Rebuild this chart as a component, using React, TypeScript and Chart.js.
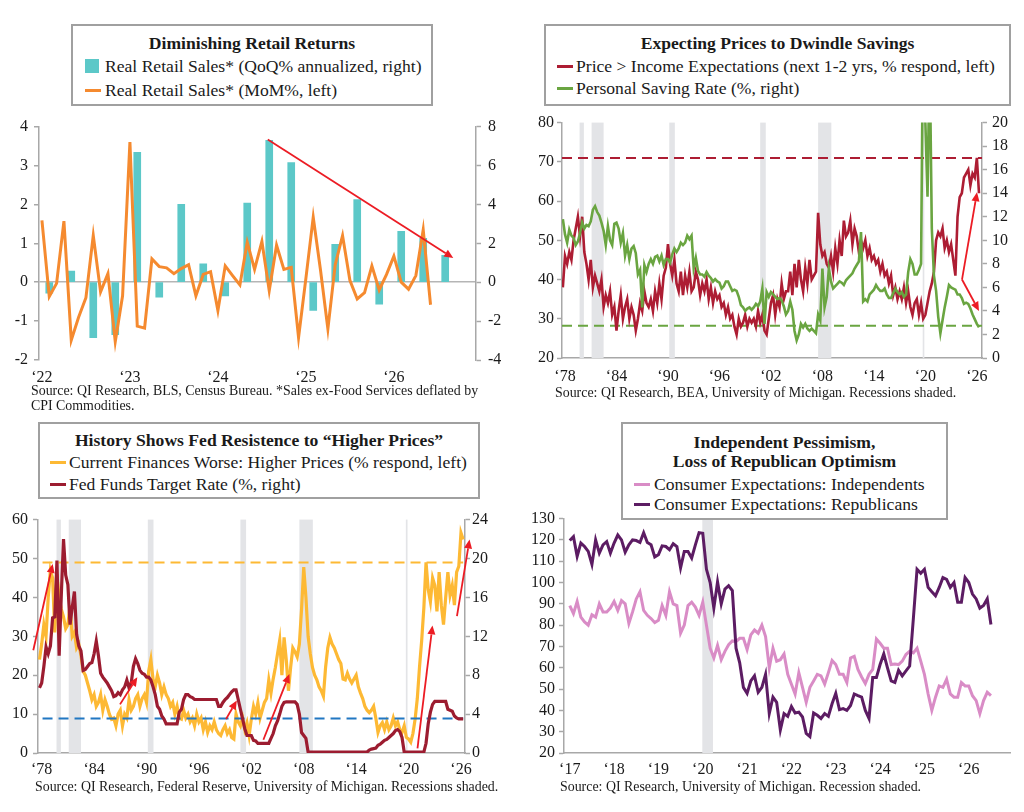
import { useEffect, useRef } from "react";
import { Chart, registerables } from "chart.js";

Chart.register(...registerables);

const FONT = "'Liberation Serif', 'Times New Roman', serif";
const INK = "#1a1a1a";
const AXIS_GREY = "#a8a8a8";
const SHADE = "#e3e4e7";
const ARROW_RED = "#ec1c24";

// ---- panel 1: Diminishing Retail Returns (monthly from Jan '22, index = month) ----
const P1_YEAR_TICKS = [0, 12, 24, 36, 48];
const P1_YEAR_LABELS = ["‘22", "‘23", "‘24", "‘25", "‘26"];
const RETAIL_MOM = [
  1.59, -0.37, -0.03, 1.57, -1.49, -0.9, -0.4, 1.2, -0.25, 0.22, -1.53, -0.35,
  3.6, -1.13, -1.18, 0.6, 0.4, 0.37, 0.22, 0.35, 0.45, -0.35, 0.2, 0.27,
  -0.73, 0.42, 0.17, -0.07, 1.03, 0.33, 1.05, -0.22, 0.95, 0.33, 0.38, -1.42,
  0.1, 1.67, 0.3, -1.2, 0.45, 1.2, 0.05, -0.43, -0.27, 0.42, -0.2, 0.2,
  0.67, 0.0, -0.18, 0.17, 1.35, -0.58,
];
const RETAIL_QOQ = [
  -0.56, 0.57, -2.85, -2.7, 6.68, -0.77, 4.0, 0.95, -0.7, 4.07,
  7.3, 6.15, -1.45, 1.95, 4.25, -1.13, 2.62, 2.25, 1.38,
];
const P1_ARROWS = [[30.8, 3.67, 56.1, 0.62]];

// ---- shared long-history axis ('78 - '26), quarterly points from 1977.75 ----
const Q_START = 1977.75;
const LONG_TICKS = [1978, 1984, 1990, 1996, 2002, 2008, 2014, 2020, 2026];
const LONG_LABELS = ["‘78", "‘84", "‘90", "‘96", "‘02", "‘08", "‘14", "‘20", "‘26"];
const RECESSIONS = [
  [1979.7, 1980.2], [1981.1, 1982.5], [1990.15, 1990.8],
  [2000.75, 2001.4], [2007.5, 2009.04], [2019.69, 2019.88],
];

// ---- panel 2: Expecting Prices to Dwindle Savings ----
const PRICE_GT_INCOME = [
  38,
  46, 44, 47, 45, 50, 53, 56, 51, 56, 47, 44, 40, 45, 38, 41, 39,
  37, 40, 33, 36, 34, 37, 31, 33, 27, 32, 36, 30, 33, 35, 30, 33,
  31, 27, 30, 34, 32, 37, 34, 33, 35, 32, 37, 34, 39, 35, 41, 43,
  49, 44, 41, 45, 39, 37, 42, 36, 41, 38, 42, 37, 38, 42, 40, 36,
  39, 37, 40, 35, 38, 34, 37, 35, 36, 33, 34, 31, 33, 30, 31, 28,
  26, 30, 28, 29, 31, 28, 30, 29, 30, 28, 32, 29, 31, 27, 26, 30,
  34, 36, 31, 35, 33, 39, 35, 37, 37, 42, 36, 44, 38, 45, 40, 37,
  43, 39, 45, 40, 41, 42, 57, 49, 46, 47, 44, 43, 46, 42, 48, 44,
  50, 46, 55, 51, 52, 55, 49, 53, 51, 47, 50, 48, 50, 46, 48, 45,
  46, 44, 45, 42, 44, 41, 42, 39, 41, 36, 38, 35, 37, 35, 38, 34,
  37, 33, 31, 34, 35, 31, 34, 30, 31, 34, 37, 39, 42, 50, 52, 51,
  53, 48, 50, 47, 49, 45, 41, 56, 61, 62, 66, 67, 68, 64, 67, 66,
  71, 62,
];
const SAVING_RATE = [
  11.8,
  10.5, 9.8, 10.9, 10.4, 10.2, 9.6, 9.9, 10.6, 11.5, 11.0, 11.3, 11.2, 11.6, 12.6, 12.9, 12.4,
  12.1, 11.5, 10.8, 9.6, 11.2, 10.0, 9.6, 11.4, 11.5, 11.0, 9.8, 10.6, 8.7, 9.6, 8.4, 9.3,
  9.5, 8.9, 7.1, 7.5, 4.3, 7.9, 7.3, 8.0, 8.4, 8.0, 8.6, 8.7, 8.2, 8.7, 7.9, 8.4,
  8.4, 8.1, 8.8, 9.3, 9.0, 9.3, 9.8, 9.6, 9.8, 10.4, 10.1, 10.4, 7.6, 8.5, 7.4, 7.1,
  7.1, 6.9, 7.3, 7.0, 6.8, 6.5, 6.7, 6.5, 6.4, 5.9, 6.1, 6.5, 6.5, 6.1, 5.7, 5.8,
  5.7, 5.2, 4.5, 4.3, 4.0, 4.2, 4.3, 4.1, 4.3, 4.6, 4.4, 4.8, 5.9, 2.9, 5.6, 5.2,
  5.6, 5.4, 5.2, 5.0, 5.1, 4.9, 4.4, 3.7, 4.0, 4.8, 4.1, 2.3, 1.5, 2.0, 2.9, 2.6,
  2.9, 2.5, 2.3, 2.5, 2.3, 2.1, 3.7, 3.2, 7.6, 4.3, 5.2, 7.6, 6.5, 5.9, 6.1, 6.3,
  6.5, 6.4, 6.2, 6.6, 6.8, 7.0, 7.2, 7.6, 7.9, 8.2, 10.7, 4.8, 5.0, 4.8, 5.4, 5.6,
  5.8, 6.2, 5.9, 5.7, 5.7, 5.9, 5.4, 5.1, 5.1, 5.5, 5.9, 5.6, 5.4, 5.6, 5.2, 5.4,
  7.3, 8.4, 8.0, 7.1, 7.1, 7.5, 8.0, 30, 20, 13.7, 26, 11, 7, 5.7, 3.5, 2.1,
  3.2, 4.3, 5.2, 6.2, 6.0, 5.9, 5.8, 5.4, 5.4, 5.1, 4.6, 4.7, 4.6, 4.2, 3.7, 3.3,
  2.9, 2.6,
];
const PRICE_LEVEL_NOW = 71;
const SAVING_LEVEL_NOW = 2.73;
const P2_ARROWS = [
  [2024.27, 40, 2026.02, 62.25],
  [2024.27, 40, 2026.25, 32],
];

// ---- panel 3: Fed resistance to higher prices ----
const FINANCES_WORSE = [
  24,
  28, 33, 30, 40, 47, 45, 31, 46, 40, 37, 35, 32, 33, 38, 30, 31,
  27, 28, 25, 21, 20, 18, 16, 13.7, 15, 12, 13, 15, 11, 13.7, 12, 10,
  8.7, 9, 7, 10, 11, 7, 10, 9, 13.7, 11, 12, 14, 15, 12, 14, 15,
  13, 21, 24, 19, 17, 20, 18, 15, 17, 15, 14, 12, 13, 10, 12, 9,
  8.7, 11, 9, 10, 8, 9, 7, 10, 8, 9, 6, 8, 5.3, 7, 6, 8,
  6, 5, 4.5, 6, 7, 5, 6, 4, 3.6, 10, 8, 7, 9, 6, 7.8, 4.5,
  8.7, 12, 10, 12.9, 9, 11, 13, 14, 18.8, 15.4, 19, 22, 25.5, 29, 20, 29.7,
  24, 16, 22, 27, 26, 24.7, 28, 37, 47.8, 40, 30, 25.5, 22, 20, 18.8, 17,
  16, 14.6, 22, 27, 29.7, 28, 27, 25.5, 24, 23, 19, 18.8, 20.5, 19, 18, 19,
  20, 17, 15.4, 14, 12, 11, 10.4, 11, 12, 9, 5.3, 7, 7.8, 6, 8, 6,
  7, 9, 7, 8, 6, 5.3, 7, 4, 3.6, 2.8, 5, 8.7, 14, 22, 28.9, 37.3,
  49, 42, 38.9, 45, 43.1, 36.4, 46.5, 38, 33, 40, 46.5, 40.6, 43.1, 38, 46.5, 48,
  56.6, 54.9,
];
const FED_FUNDS = [
  6.7,
  7.2, 8.9, 10.9, 10.2, 11.0, 13.9, 14.0, 19.8, 10.0, 16.3, 22.0, 18.3, 17.3, 13.2, 15.0, 16.6,
  12.2, 11.0, 10.5, 8.5, 8.6, 8.9, 9.2, 9.3, 10.2, 11.5, 10.0, 8.2, 7.8, 7.5, 7.2, 6.8,
  6.4, 5.8, 5.9, 6.2, 6.0, 6.5, 6.8, 7.5, 6.7, 7.2, 8.9, 9.7, 9.2, 8.5, 8.2, 8.1,
  7.8, 7.8, 7.5, 6.8, 6.0, 4.8, 4.5, 3.8, 3.5, 3.0, 3.0, 3.0, 3.0, 3.0, 3.0, 4.2,
  4.5, 5.5, 6.0, 6.0, 5.8, 5.7, 5.5, 5.5, 5.5, 5.5, 5.5, 5.5, 5.5, 5.5, 5.5, 5.5,
  5.5, 4.8, 4.8, 5.2, 5.5, 5.7, 6.0, 6.3, 6.5, 6.5, 5.5, 4.5, 3.5, 2.5, 1.8, 1.8,
  1.8, 1.3, 1.25, 1.0, 1.0, 1.0, 1.0, 1.0, 1.0, 1.5, 2.0, 2.8, 3.3, 4.0, 4.8, 5.2,
  5.25, 5.25, 5.25, 5.25, 5.25, 5.0, 4.0, 2.1, 1.8, 1.5, 0.1, 0.1, 0.1, 0.1, 0.1, 0.1,
  0.1, 0.1, 0.1, 0.1, 0.1, 0.1, 0.1, 0.1, 0.1, 0.1, 0.1, 0.1, 0.1, 0.1, 0.1, 0.1,
  0.1, 0.1, 0.1, 0.1, 0.1, 0.1, 0.3, 0.4, 0.45, 0.5, 0.8, 0.9, 1.1, 1.3, 1.4, 1.6,
  1.8, 2.0, 2.3, 2.4, 2.2, 1.6, 0.1, 0.1, 0.1, 0.1, 0.1, 0.1, 0.1, 0.1, 0.1, 0.1,
  1.0, 3.0, 4.2, 5.0, 5.3, 5.3, 5.3, 5.3, 5.3, 5.3, 4.5, 4.4, 4.3, 3.8, 3.6, 3.5,
  3.5, 3.5,
];
const WORSE_LEVEL_NOW = 49;
const FED_LEVEL_NOW = 3.55;
const P3_ARROWS = [
  [1977.04, 26.4, 1979.26, 48.6],
  [1986.97, 12.5, 1988.95, 19.5],
  [1999.1, 8.7, 2000.34, 13.5],
  [2003.38, 3.4, 2006.36, 20.3],
  [2021.02, 1.2, 2022.74, 32.8],
  [2025.54, 35.2, 2026.98, 54.9],
];

// ---- panel 4: consumer expectations by party, monthly from Jan 2017 ----
const P4_TICKS = [2017, 2018, 2019, 2020, 2021, 2022, 2023, 2024, 2025, 2026];
const P4_LABELS = ["‘17", "‘18", "‘19", "‘20", "‘21", "‘22", "‘23", "‘24", "‘25", "‘26"];
const P4_RECESSION = [[2019.99, 2020.23]];
const INDEPENDENTS = [
  89.2, 85.4, 91.1, 83.8, 81.5, 80, 84.9, 83.8, 90, 86.2,
  86.2, 88, 91.1, 86.9, 91.5, 90, 80.8, 86.2, 92.3, 95.7,
  86.9, 84.6, 83.1, 81.2, 82.3, 89.2, 84.6, 95.7, 90, 89.2,
  76.2, 80, 89.2, 90.8, 88.5, 84.6, 90.8, 80, 69.2, 64.6,
  70.5, 63.8, 67.7, 70.8, 72.6, 72.3, 73.8, 73.8, 68.5, 75.4,
  77.7, 76.2, 80, 74.6, 60, 69.2, 63.1, 63.8, 66.5, 56.9,
  52.3, 47.7, 57.7, 50.8, 43.8, 50.8, 53.8, 56.9, 56.2, 52.3,
  57.7, 63.4, 61.5, 56.9, 56.9, 53.1, 64.6, 65.4, 59.2, 55.7,
  52.6, 56.9, 59.2, 73.5, 71.5, 69.2, 69.2, 61.5, 61.8, 61.5,
  63.1, 66.2, 67.7, 67, 69.2, 63.1, 56.9, 47.7, 40, 46.2,
  51.5, 50.8, 54.6, 47.7, 46.2, 46.2, 53.1, 51.5, 51.5, 46.9,
  44.6, 38.5, 44.6, 48.5, 46.9,
];
const REPUBLICANS = [
  119.7, 121.5, 112.3, 118.5, 116.9, 114.6, 108.5, 120, 113.8, 117.7,
  119.2, 113.8, 118.5, 122.3, 120, 114.2, 117.7, 120, 119.7, 118.8,
  123.4, 118.8, 117.7, 112, 113.1, 117.2, 116.9, 115.4, 118.2, 116.9,
  106.9, 114.6, 114.6, 111.5, 117.7, 123.4, 123.1, 106.2, 100, 88,
  100.3, 90, 96.9, 98.5, 96.2, 69.2, 62.3, 50.8, 48, 53.8,
  56.2, 48.5, 50.8, 56.9, 38.5, 46.2, 43.8, 30.8, 38.5, 37.2,
  41.8, 38.8, 39.2, 36.9, 29.2, 27.7, 38.8, 37.7, 36.2, 38.5,
  37.2, 43.1, 48, 40.3, 40.8, 40, 42.3, 47.7, 46.9, 46.2,
  40, 36.2, 55.4, 55.4, 61.5, 66.5, 60, 53.8, 53.1, 58.8,
  56.2, 58.5, 60.8, 83.1, 106.2, 104.3, 106.2, 97.7, 95.7, 93.8,
  97.7, 102.3, 101.5, 97.7, 100, 90.8, 90.8, 102.3, 100, 94.6,
  92.3, 88, 89.2, 92.3, 80.3,
];

const TEAL = "#5cc8c8";
const ORANGE = "#f58a2f";
const CRIMSON = "#ad1d33";
const GREEN = "#6aa541";
const GOLD = "#fdb934";
const MAROON = "#9c1c30";
const BLUE = "#2177c2";
const ORCHID = "#d98cc6";
const PLUM = "#5c1c63";

const tickFont = { family: FONT, size: 16 };

const quarterly = (vals: number[]) => vals.map((v, i) => ({ x: Q_START + i * 0.25, y: v }));
const monthly = (vals: number[], start: number) => vals.map((v, i) => ({ x: start + i / 12, y: v }));
const level = (y: number, x0: number, x1: number) => [{ x: x0, y }, { x: x1, y }];

function yAxis(position: string, min: number, max: number, step: number, width: number, pad: number, extraGrid: any = {}) {
  return {
    type: "linear",
    position,
    min,
    max,
    afterFit: (s: any) => {
      s.width = width;
    },
    ticks: { stepSize: step, color: INK, font: tickFont, padding: pad, autoSkip: false },
    grid: { color: "transparent", drawTicks: true, tickLength: 5, tickColor: AXIS_GREY, tickWidth: 1.5, ...extraGrid },
    border: { display: true, color: AXIS_GREY, width: 1.5 },
  };
}

function xAxis(min: number, max: number, ticks: number[], labels: string[], height: number, pad: number, border: boolean) {
  return {
    type: "linear",
    min,
    max,
    offset: false,
    afterFit: (s: any) => {
      s.height = height;
    },
    afterBuildTicks: (s: any) => {
      s.ticks = ticks.map((v) => ({ value: v }));
    },
    ticks: {
      color: INK,
      font: tickFont,
      padding: pad,
      maxRotation: 0,
      autoSkip: false,
      callback: (v: number) => labels[ticks.indexOf(v)] ?? "",
    },
    grid: { display: true, color: "transparent", drawTicks: false },
    border: { display: border, color: AXIS_GREY, width: 1.5 },
  };
}

function bandsPlugin(bands: number[][]) {
  return {
    id: "bands",
    beforeDatasetsDraw(chart: any) {
      const { ctx, chartArea: a, scales } = chart;
      ctx.save();
      ctx.fillStyle = SHADE;
      for (const [s, e] of bands) {
        const x0 = scales.x.getPixelForValue(s);
        const x1 = scales.x.getPixelForValue(e);
        ctx.fillRect(x0, a.top, Math.max(1.5, x1 - x0), a.bottom - a.top);
      }
      ctx.restore();
    },
  };
}

function arrowsPlugin(arrows: number[][], yId: string) {
  return {
    id: "arrows",
    afterDatasetsDraw(chart: any) {
      const { ctx, scales } = chart;
      const xs = scales.x;
      const ys = scales[yId];
      ctx.save();
      ctx.strokeStyle = ARROW_RED;
      ctx.fillStyle = ARROW_RED;
      ctx.lineWidth = 1.8;
      for (const [a, b, c, d] of arrows) {
        const x0 = xs.getPixelForValue(a);
        const y0 = ys.getPixelForValue(b);
        const x1 = xs.getPixelForValue(c);
        const y1 = ys.getPixelForValue(d);
        const ang = Math.atan2(y1 - y0, x1 - x0);
        const L = 9;
        const W = 4;
        const bx = x1 - L * Math.cos(ang);
        const by = y1 - L * Math.sin(ang);
        ctx.beginPath();
        ctx.moveTo(x0, y0);
        ctx.lineTo(bx, by);
        ctx.stroke();
        ctx.beginPath();
        ctx.moveTo(x1, y1);
        ctx.lineTo(bx + W * Math.sin(ang), by - W * Math.cos(ang));
        ctx.lineTo(bx - W * Math.sin(ang), by + W * Math.cos(ang));
        ctx.closePath();
        ctx.fill();
      }
      ctx.restore();
    },
  };
}

const baseOptions = (padding: any, scales: any) => ({
  animation: false,
  responsive: false,
  maintainAspectRatio: false,
  layout: { padding },
  plugins: { legend: { display: false }, tooltip: { enabled: false } },
  elements: { point: { radius: 0 }, line: { tension: 0 } },
  scales,
});

function retailConfig(): any {
  return {
    type: "line",
    data: {
      datasets: [
        {
          type: "line",
          data: RETAIL_MOM.map((v, i) => ({ x: i, y: v })),
          yAxisID: "y",
          borderColor: ORANGE,
          borderWidth: 3,
          order: 1,
        },
        {
          type: "bar",
          data: RETAIL_QOQ.map((v, i) => ({ x: 1 + 3 * i, y: v })),
          yAxisID: "y1",
          backgroundColor: TEAL,
          barThickness: 7,
          order: 2,
        },
      ],
    },
    options: baseOptions(
      { top: 10, right: 6, left: 0, bottom: 0 },
      {
        x: xAxis(-0.4, 59.2, P1_YEAR_TICKS, P1_YEAR_LABELS, 40, 8, false),
        y: yAxis("left", -2, 4, 1, 39, 6, {
          color: (ctx: any) => (ctx.tick && ctx.tick.value === 0 ? "#b5b5b5" : "transparent"),
          lineWidth: 1.5,
        }),
        y1: yAxis("right", -4, 8, 2, 30, 7),
      }
    ),
    plugins: [arrowsPlugin(P1_ARROWS, "y")],
  };
}

function savingsConfig(): any {
  const x0 = 1977.65;
  const x1 = 2026.6;
  return {
    type: "line",
    data: {
      datasets: [
        { data: quarterly(SAVING_RATE), yAxisID: "y1", borderColor: GREEN, borderWidth: 2.6, order: 2 },
        { data: quarterly(PRICE_GT_INCOME), yAxisID: "y", borderColor: CRIMSON, borderWidth: 2.6, order: 3 },
        { data: level(PRICE_LEVEL_NOW, x0, x1), yAxisID: "y", borderColor: CRIMSON, borderWidth: 2, borderDash: [10, 6], order: 4 },
        { data: level(SAVING_LEVEL_NOW, x0, x1), yAxisID: "y1", borderColor: GREEN, borderWidth: 2, borderDash: [10, 6], order: 4 },
      ],
    },
    options: baseOptions(
      { top: 10, right: 12, left: 0, bottom: 0 },
      {
        x: xAxis(x0, x1, LONG_TICKS, LONG_LABELS, 40, 9, true),
        y: yAxis("left", 20, 80, 10, 50, 3),
        y1: yAxis("right", 0, 20, 2, 30, 5),
      }
    ),
    plugins: [bandsPlugin(RECESSIONS), arrowsPlugin(P2_ARROWS, "y")],
  };
}

function fedConfig(): any {
  const x0 = 1977.58;
  const x1 = 2026.46;
  const last = Q_START + (FINANCES_WORSE.length - 1) * 0.25;
  return {
    type: "line",
    data: {
      datasets: [
        { data: quarterly(FED_FUNDS), yAxisID: "y1", borderColor: MAROON, borderWidth: 3.2, order: 2 },
        { data: level(WORSE_LEVEL_NOW, 1978.1, last), yAxisID: "y", borderColor: GOLD, borderWidth: 2, borderDash: [10, 6], order: 3 },
        { data: level(FED_LEVEL_NOW, 1978.1, last), yAxisID: "y1", borderColor: BLUE, borderWidth: 2, borderDash: [10, 6], order: 3 },
        { data: quarterly(FINANCES_WORSE), yAxisID: "y", borderColor: GOLD, borderWidth: 3.2, order: 4 },
      ],
    },
    options: baseOptions(
      { top: 10, right: 17, left: 0, bottom: 0 },
      {
        x: xAxis(x0, x1, LONG_TICKS, LONG_LABELS, 42, 7, true),
        y: yAxis("left", 0, 60, 10, 38, 5),
        y1: yAxis("right", 0, 24, 4, 30, 2),
      }
    ),
    plugins: [bandsPlugin(RECESSIONS), arrowsPlugin(P3_ARROWS, "y")],
  };
}

function partyConfig(): any {
  return {
    type: "line",
    data: {
      datasets: [
        { data: monthly(REPUBLICANS, 2017), borderColor: PLUM, borderWidth: 3, order: 1 },
        { data: monthly(INDEPENDENTS, 2017), borderColor: ORCHID, borderWidth: 3, order: 2 },
      ],
    },
    options: baseOptions(
      { top: 10, right: 14, left: 0, bottom: 0 },
      {
        x: xAxis(2016.87, 2026.93, P4_TICKS, P4_LABELS, 42, 7, true),
        y: yAxis("left", 20, 130, 10, 52, 4),
      }
    ),
    plugins: [bandsPlugin(P4_RECESSION)],
  };
}

function ChartCanvas({ left, top, width, height, build }: any) {
  const ref = useRef<HTMLCanvasElement>(null);
  useEffect(() => {
    if (!ref.current) return;
    const chart = new Chart(ref.current, build());
    return () => chart.destroy();
  }, [build]);
  return (
    <canvas
      ref={ref}
      width={width}
      height={height}
      style={{ position: "absolute", left, top, width, height }}
    />
  );
}

function LegendBox({ left, top, width, height, title, titleY, rows, rowY, markX, textX }: any) {
  const line = (y: number) => ({ position: "absolute" as const, top: y - top - 11, height: 22, lineHeight: "22px" });
  return (
    <div
      style={{
        position: "absolute",
        left,
        top,
        width,
        height,
        boxSizing: "border-box",
        border: "2px solid #a0a0a0",
        background: "#fff",
        fontFamily: FONT,
        color: INK,
        fontSize: 17.6,
      }}
    >
      {title.map((t: string, i: number) => (
        <div key={t} style={{ ...line(titleY[i]), left: 0, right: 0, textAlign: "center", fontWeight: "bold" }}>
          {t}
        </div>
      ))}
      {rows.map((r: any, i: number) => (
        <div key={r.label}>
          <div
            style={
              r.kind === "square"
                ? { position: "absolute", left: markX - left, top: rowY[i] - top - 7, width: 14, height: 14, background: r.color }
                : { position: "absolute", left: markX - left, top: rowY[i] - top - 1.5, width: 16, height: 3, background: r.color }
            }
          />
          <div style={{ ...line(rowY[i]), left: textX - left, whiteSpace: "nowrap" }}>{r.label}</div>
        </div>
      ))}
    </div>
  );
}

function Source({ left, top, lines }: any) {
  return (
    <div
      style={{
        position: "absolute",
        left,
        top,
        fontFamily: FONT,
        fontSize: 13.9,
        lineHeight: "15px",
        color: INK,
        whiteSpace: "nowrap",
      }}
    >
      {lines.map((l: string) => (
        <div key={l}>{l}</div>
      ))}
    </div>
  );
}

export default function App() {
  useEffect(() => {
    document.body.style.margin = "0";
  }, []);
  return (
    <div style={{ position: "fixed", left: 0, top: 0, width: 1024, height: 812, background: "#fff", overflow: "hidden" }}>
      <ChartCanvas left={0} top={110} width={512} height={290} build={retailConfig} />
      <ChartCanvas left={512} top={108} width={512} height={290} build={savingsConfig} />
      <ChartCanvas left={0} top={505} width={512} height={290} build={fedConfig} />
      <ChartCanvas left={512} top={505} width={512} height={290} build={partyConfig} />

      <LegendBox
        left={71}
        top={24}
        width={362}
        height={82}
        title={["Diminishing Retail Returns"]}
        titleY={[41]}
        rows={[
          { label: "Real Retail Sales* (QoQ% annualized, right)", color: TEAL, kind: "square" },
          { label: "Real Retail Sales* (MoM%, left)", color: ORANGE, kind: "line" },
        ]}
        rowY={[64, 88]}
        markX={83}
        textX={103}
      />
      <LegendBox
        left={544}
        top={24}
        width={467}
        height={82}
        title={["Expecting Prices to Dwindle Savings"]}
        titleY={[41]}
        rows={[
          { label: "Price > Income Expectations (next 1-2 yrs, % respond, left)", color: CRIMSON, kind: "line" },
          { label: "Personal Saving Rate (%, right)", color: GREEN, kind: "line" },
        ]}
        rowY={[64, 86]}
        markX={555}
        textX={574}
      />
      <LegendBox
        left={38}
        top={422}
        width={442}
        height={77}
        title={["History Shows Fed Resistence to “Higher Prices”"]}
        titleY={[438]}
        rows={[
          { label: "Current Finances Worse: Higher Prices (% respond, left)", color: GOLD, kind: "line" },
          { label: "Fed Funds Target Rate (%, right)", color: MAROON, kind: "line" },
        ]}
        rowY={[460, 482]}
        markX={48}
        textX={67}
      />
      <LegendBox
        left={621}
        top={422}
        width={327}
        height={98}
        title={["Independent Pessimism,", "Loss of Republican Optimism"]}
        titleY={[440, 459]}
        rows={[
          { label: "Consumer Expectations: Independents", color: ORCHID, kind: "line" },
          { label: "Consumer Expectations: Republicans", color: PLUM, kind: "line" },
        ]}
        rowY={[482, 502]}
        markX={632}
        textX={652}
      />

      <Source
        left={31}
        top={383}
        lines={["Source: QI Research, BLS, Census Bureau. *Sales ex-Food Services deflated by", "CPI Commodities."]}
      />
      <Source left={555} top={385} lines={["Source: QI Research, BEA, University of Michigan. Recessions shaded."]} />
      <Source
        left={35}
        top={779}
        lines={["Source: QI Research, Federal Reserve, University of Michigan. Recessions shaded."]}
      />
      <Source left={560} top={779} lines={["Source: QI Research, University of Michigan. Recession shaded."]} />
    </div>
  );
}
